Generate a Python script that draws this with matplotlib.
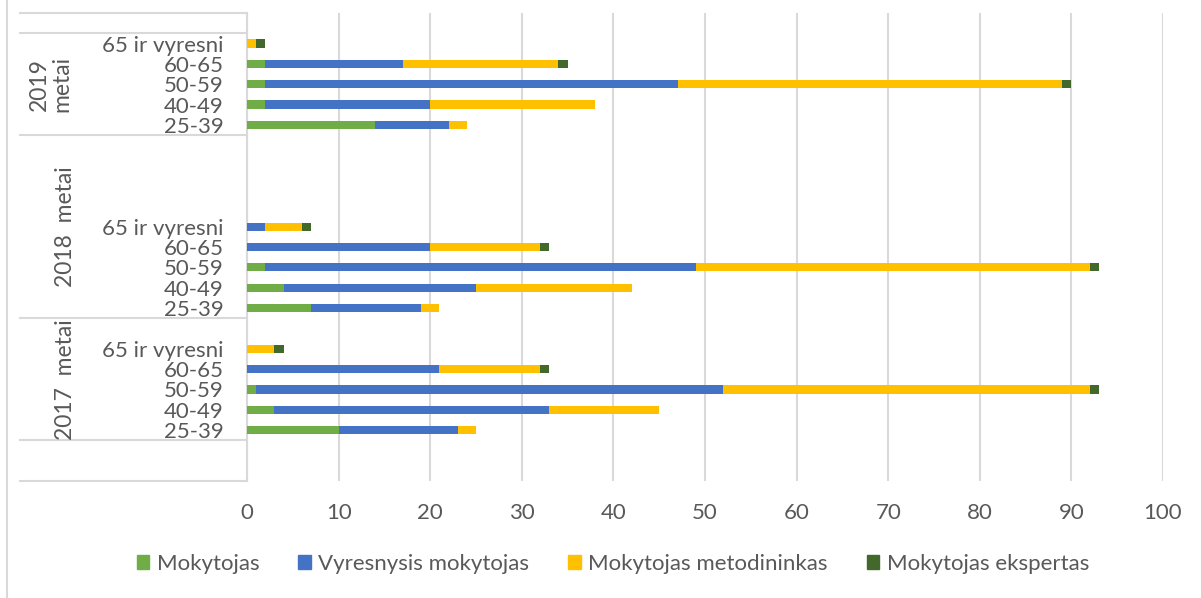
import matplotlib.pyplot as plt
from matplotlib.patches import Patch
from matplotlib.lines import Line2D

plt.rcParams['font.family'] = ['Lato', 'DejaVu Sans']

age_groups = ['25-39', '40-49', '50-59', '60-65', '65 ir vyresni']
years = ['2017  metai', '2018  metai', '2019\nmetai']
series = ['Mokytojas', 'Vyresnysis mokytojas', 'Mokytojas metodininkas', 'Mokytojas ekspertas']
colors = ['#70AD47', '#4472C4', '#FFC000', '#43682B']

# values per year, in age_groups order
mokytojas = {'2017': [10, 3, 1, 0, 0], '2018': [7, 4, 2, 0, 0], '2019': [14, 2, 2, 2, 0]}
vyresnysis = {'2017': [13, 30, 51, 21, 0], '2018': [12, 21, 47, 20, 2], '2019': [8, 18, 45, 15, 0]}
metodininkas = {'2017': [2, 12, 40, 11, 3], '2018': [2, 17, 43, 12, 4], '2019': [2, 18, 42, 17, 1]}
ekspertas = {'2017': [0, 0, 1, 1, 1], '2018': [0, 0, 1, 1, 1], '2019': [0, 0, 1, 1, 1]}

# row layout of the category axis (Excel leaves blank rows)
group_start = {'2017': 2, '2018': 8, '2019': 17}
group_span = {'2017': (1.5, 7.5), '2018': (7.5, 16.5), '2019': (16.5, 21.5)}
n_rows = 23

fig = plt.figure(figsize=(12.01, 5.98), dpi=100)
ax = fig.add_axes([247 / 1201, 1 - 481 / 598, 916 / 1201, 468 / 598])

txt = '#595959'
grid = '#D9D9D9'

ticks, labels = [], []
for yr in ['2017', '2018', '2019']:
    pos = [group_start[yr] + i for i in range(len(age_groups))]
    left = [0] * len(pos)
    for name, data, c in zip(series, [mokytojas, vyresnysis, metodininkas, ekspertas], colors):
        vals = data[yr]
        ax.barh(pos, vals, left=left, height=0.4, color=c, edgecolor='none', zorder=3)
        left = [a + b for a, b in zip(left, vals)]
    ticks += pos
    labels += age_groups

ax.set_ylim(-0.5, n_rows - 0.5)
ax.set_xlim(0, 100)
ax.set_xticks(range(0, 101, 10))
ax.set_yticks(ticks, labels)
ax.tick_params(axis='y', length=0, pad=17, labelsize=16, labelcolor=txt)
ax.tick_params(axis='x', length=0, pad=16, labelsize=16, labelcolor=txt)
ax.grid(axis='x', color=grid, linewidth=1.5, zorder=0)
for s in ['top', 'right', 'bottom']:
    ax.spines[s].set_visible(False)
ax.spines['left'].set_color(grid)
ax.spines['left'].set_linewidth(1.5)

# multi-level category separators
tr = ax.get_yaxis_transform()
x0 = (20 - 247) / 916
for yb in [-0.5, 1.5, 7.5, 16.5, 21.5, 22.5]:
    ax.add_line(Line2D([x0, 0], [yb, yb], transform=tr, color=grid, linewidth=1.5, clip_on=False))

label_x = {'2017': (66 - 247) / 916, '2018': (66 - 247) / 916, '2019': (51 - 247) / 916}
for yr, lab in zip(['2017', '2018', '2019'], years):
    lo, hi = group_span[yr]
    ax.text(label_x[yr], (lo + hi) / 2, lab, transform=tr, rotation=90, ha='center', va='center',
            multialignment='center', fontsize=16.5, color=txt, linespacing=1.1)

# chart border on the left
fig.add_artist(Line2D([7 / 1201, 7 / 1201], [0, 1], transform=fig.transFigure, color=grid, linewidth=1.5))

handles = [Patch(color=c) for c in colors]
fig.legend(handles, series, loc='center', bbox_to_anchor=(613 / 1201, 1 - 564 / 598), ncol=4,
           frameon=False, fontsize=16, labelcolor=txt, handlelength=0.55, handleheight=0.55,
           handletextpad=0.35, columnspacing=1.75)

fig.savefig('out.png', dpi=100)
